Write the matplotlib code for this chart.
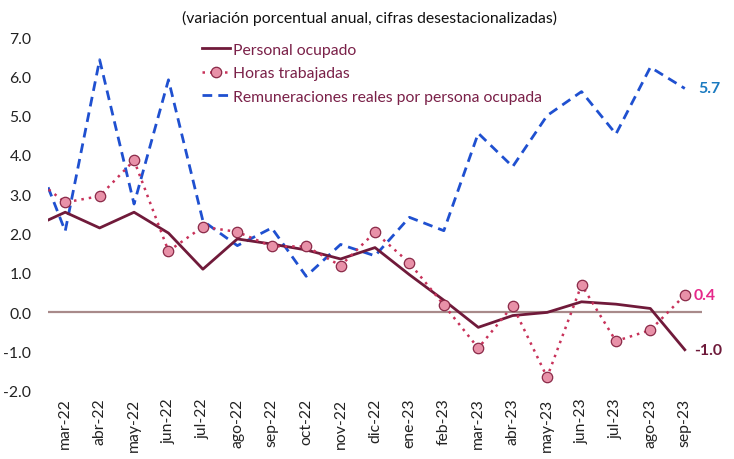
import matplotlib
matplotlib.use("Agg")
import matplotlib.pyplot as plt

plt.rcParams['font.family'] = ['Lato', 'DejaVu Sans']

months = ["feb-22", "mar-22", "abr-22", "may-22", "jun-22", "jul-22", "ago-22", "sep-22",
          "oct-22", "nov-22", "dic-22", "ene-23", "feb-23", "mar-23", "abr-23",
          "may-23", "jun-23", "jul-23", "ago-23", "sep-23"]
personal = [2.14, 2.54, 2.14, 2.54, 2.01, 1.09, 1.86, 1.73, 1.58, 1.35, 1.64, 0.95,
            0.30, -0.39, -0.09, -0.01, 0.26, 0.20, 0.09, -0.96]
horas = [3.47, 2.79, 2.95, 3.86, 1.55, 2.17, 2.04, 1.67, 1.67, 1.18, 2.03, 1.25,
         0.18, -0.92, 0.16, -1.66, 0.69, -0.74, -0.46, 0.43]
remun = [4.30, 2.06, 6.42, 2.75, 5.91, 2.32, 1.69, 2.14, 0.91, 1.72, 1.43, 2.41,
         2.07, 4.55, 3.70, 5.00, 5.61, 4.53, 6.23, 5.69]
yticks = [-2.0, -1.0, 0.0, 1.0, 2.0, 3.0, 4.0, 5.0, 6.0, 7.0]
title = "(variación porcentual anual, cifras desestacionalizadas)"

x = list(range(-1, len(months) - 1))

fig = plt.figure(figsize=(7.34, 4.6), dpi=100)
ax = fig.add_axes([48/734, 1 - 391.6/460, (702-48)/734, (391.6-38)/460])

ax.axhline(0, color="#a88a8a", lw=1.6, zorder=1)
l1, = ax.plot(x, personal, color="#701a3a", lw=2.0, zorder=3, label="Personal ocupado")
l2, = ax.plot(x, horas, color="#c8325a", lw=1.8, ls=(0, (1, 2)), marker="o", ms=7.5,
              markerfacecolor="#e891a8", markeredgecolor="#8a2a48", markeredgewidth=0.9,
              zorder=4, label="Horas trabajadas")
l3, = ax.plot(x, remun, color="#1f50d0", lw=2.0, ls=(0, (3.5, 2.2)), zorder=2,
              label="Remuneraciones reales por persona ocupada")

ax.set_xlim(-0.5, len(months) - 1.5)
ax.set_ylim(-2, 7)
ax.set_yticks(yticks)
ax.set_yticklabels([f"{v:.1f}" for v in yticks])
ax.set_xticks(x[1:])
ax.set_xticklabels(months[1:], rotation=90)
ax.tick_params(axis="both", length=0, labelsize=11.3, colors="#222222")
ax.tick_params(axis="y", pad=12)
ax.tick_params(axis="x", pad=5)
for s in ax.spines.values():
    s.set_visible(False)

fig.text(370/734, 1 - 18/460, title, ha="center", va="center", fontsize=11.3, color="#111111")

leg = ax.legend(handles=[l1, l2, l3], loc="upper left", bbox_to_anchor=(194/734, 1 - 36/460),
                bbox_transform=fig.transFigure, frameon=False, fontsize=11.3,
                handlelength=1.8, handletextpad=0.2, labelspacing=0.6, borderpad=0)
for t in leg.get_texts():
    t.set_color("#7a2048")

last = len(months) - 2
ax.annotate(f"{remun[-1]:.1f}", (last, remun[-1]), xytext=(10, 0), textcoords="offset points",
            va="center", ha="left", fontsize=11.4, fontweight="bold", color="#1a7ac0")
ax.annotate(f"{horas[-1]:.1f}", (last, horas[-1]), xytext=(6.5, 0), textcoords="offset points",
            va="center", ha="left", fontsize=11.4, fontweight="bold", color="#e6288a")
ax.annotate(f"{personal[-1]:.1f}", (last, personal[-1]), xytext=(7, 0), textcoords="offset points",
            va="center", ha="left", fontsize=11.4, fontweight="bold", color="#6e1a3a")

fig.savefig("out.png", dpi=100)
